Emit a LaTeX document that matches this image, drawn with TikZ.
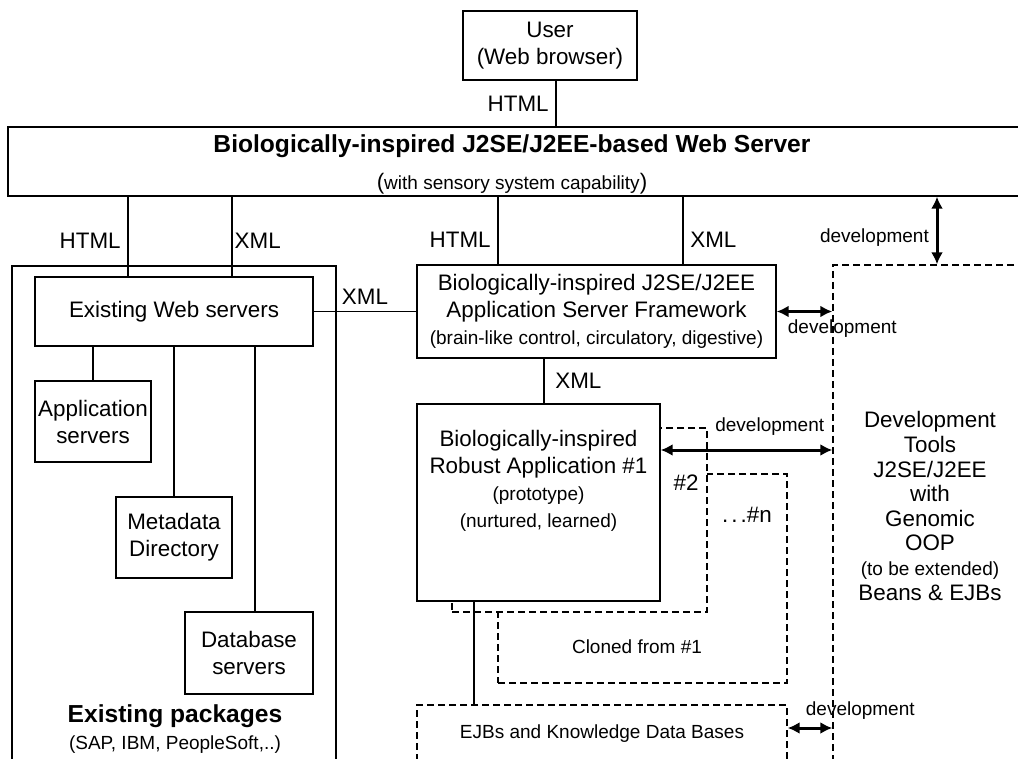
\documentclass[tikz,border=0pt]{standalone}
\usepackage{fontspec}
\setmainfont{Liberation Sans}
\usetikzlibrary{arrows.meta,positioning}
\newcommand{\bodysize}{\fontsize{11.2}{13.5}\selectfont}
\newcommand{\smallsize}{\fontsize{9.5}{11.5}\selectfont}
\newcommand{\headsize}{\fontsize{12.3}{14.5}\selectfont\bfseries}
\begin{document}
\begin{tikzpicture}[
    x=0.5pt, y=-0.5pt,
    font=\bodysize,
    box/.style={
        rectangle,
        draw=black,
        line width=0.7pt,
        fill=white,
        inner sep=0pt,
        align=center
    },
    dbox/.style={box, dash pattern=on 3.5pt off 2pt},
    link/.style={line width=0.7pt},
    dev/.style={{Latex[length=6pt,width=6pt]}-{Latex[length=6pt,width=6pt]}, line width=1.5pt},
    devlbl/.style={font=\smallsize}
]

\useasboundingbox (0,0) rectangle (1018,759);
\clip (0,0) rectangle (1018,759);

\node[box, minimum width=87pt, minimum height=34.5pt] (user) at (550,45.5) {User\\(Web browser)};
\node[box, minimum width=508.5pt, minimum height=34.5pt] (web) at (516.5,161.5) {};
\node[align=center] (webtxt) at (512,164)
    {{\headsize Biologically-inspired J2SE/J2EE-based Web Server}\\[5pt](\smallsize with sensory system capability\bodysize)};

\node[box, fill=none, minimum width=162pt, minimum height=267pt] (pkgs) at (174,533) {};
\node[box, minimum width=139pt, minimum height=34.5pt] (ews) at (174,311.5) {Existing Web servers};
\node[box, minimum width=58pt, minimum height=40.5pt] (apps) at (93,421.5) {Application\\servers};
\node[box, minimum width=58pt, minimum height=40.5pt] (meta) at (174,537.5) {Metadata\\Directory};
\node[box, minimum width=64pt, minimum height=41pt] (dbs) at (249,653) {Database\\servers};
\node[align=center] (pkgslbl) at (175,729) {{\headsize Existing packages}\\{\smallsize (SAP, IBM, PeopleSoft,..)}};

\node[box, minimum width=179.5pt, minimum height=46.5pt] (fw) at (596.5,311.5)
    {Biologically-inspired J2SE/J2EE\\Application Server Framework\\{\smallsize (brain-like control, circulatory, digestive)}};

\node[dbox, minimum width=144.5pt, minimum height=104.5pt] (clonen) at (642.5,578.5) {};
\node[dbox, minimum width=127.5pt, minimum height=92pt] (clone2) at (579.5,520) {};
\node[box, minimum width=121.5pt, minimum height=98.5pt] (robust) at (538.5,502.5) {};
\node[align=center, below=10pt of robust.north] (robusttxt)
    {Biologically-inspired\\Robust Application \#1\\{\smallsize (prototype)}\\{\smallsize (nurtured, learned)}};
\node (two) at (686,483) {\#2};
\node (many) at (747,515) {.\kern1.5pt.\kern1.5pt.\#n};
\node[font=\smallsize] (cloned) at (637,647) {Cloned from \#1};

\node[dbox, font=\smallsize, minimum width=185pt, minimum height=29pt] (ejb) at (602,734) {EJBs and Knowledge Data Bases};

\node[dbox, fill=none, minimum width=98.5pt, minimum height=267.5pt] (tools) at (931.5,532.5) {};
\node[align=center, font=\fontsize{11.2}{12.3}\selectfont] (toolstxt) at (930,506)
    {Development\\Tools\\J2SE/J2EE\\with\\Genomic\\OOP\\{\smallsize (to be extended)}\\Beans \& EJBs};

\draw[link] (user.south -| 556,0) -- node[left] {HTML} (web.north -| 556,0);
\draw[link] (web.south -| 128,0) -- node[left, pos=0.55] {HTML} (ews.north -| 128,0);
\draw[link] (web.south -| 232,0) -- node[right, pos=0.55, inner sep=1pt] {XML} (ews.north -| 232,0);
\draw[link] (web.south -| 498,0) -- node[left, pos=0.64] {HTML} (fw.north -| 498,0);
\draw[link] (web.south -| 683,0) -- node[right, pos=0.64] {XML} (fw.north -| 683,0);
\draw[dev] (web.south -| 937,0) -- node[left, pos=0.6, devlbl] {development} (tools.north -| 937,0);

\draw[link] (ews) -- node[above] {XML} (fw);
\draw[link] (ews.south -| apps.north) -- (apps.north);
\draw[link] (ews.south -| meta.north) -- (meta.north);
\draw[link] (ews.south -| 255,0) -- (dbs.north -| 255,0);

\draw[link] (fw.south -| 544,0) -- node[right, xshift=2pt] {XML} (robust.north -| 544,0);
\draw[dev] (fw.east) -- node[pos=1, below, xshift=5pt, devlbl] {development} (fw.east -| tools.west);
\draw[dev] (0,450 -| robust.east) -- node[pos=1, above left, yshift=3pt, devlbl] {development} (0,450 -| tools.west);
\draw[link] (robust.south -| 474,0) -- (ejb.north -| 474,0);
\draw[dev] (0,728 -| ejb.east) -- node[pos=0, above right, xshift=5pt, devlbl] {development} (0,728 -| tools.west);

\end{tikzpicture}
\end{document}
